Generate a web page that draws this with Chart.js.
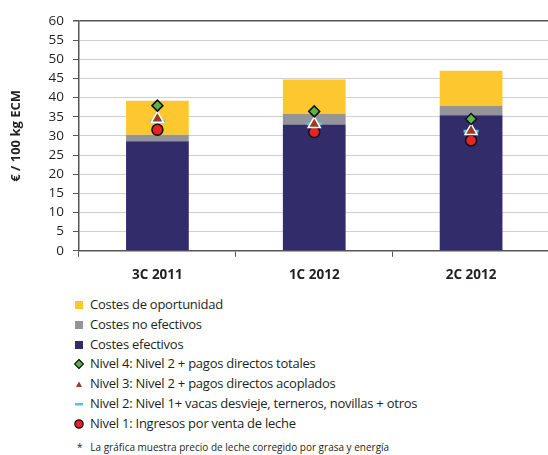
<!DOCTYPE html>
<html>
<head>
<meta charset="utf-8">
<script src="https://cdn.jsdelivr.net/npm/chart.js@4.4.0/dist/chart.umd.min.js"></script>
<style>
    html, body { margin: 0; padding: 0; background: #fff; overflow: hidden; width: 548px; height: 455px; }
    #wrap { position: absolute; left: 0; top: 0; width: 560px; height: 293px; }
    #leyenda { position: absolute; left: 74px; top: 295px; font-family: 'Open Sans', sans-serif; font-size: 13px; letter-spacing: -0.25px; color: #231f20; }
    .item { height: 19.8px; line-height: 19.8px; white-space: nowrap; position: relative; padding-left: 16px; }
    .item svg { position: absolute; left: 0; top: 5px; }
    #nota { position: absolute; left: 77px; top: 440px; font-family: 'Open Sans', sans-serif; font-size: 10px; color: #231f20; white-space: nowrap; }
</style>
</head>
<body>
<div id="wrap"><canvas id="grafico" width="560" height="293"></canvas></div>
<div id="leyenda"></div>
<div id="nota">*&nbsp;&nbsp; La gráfica muestra precio de leche corregido por grasa y energía</div>
<script>
// =====================================================
// DATOS
// =====================================================

const categorias = ['3C 2011', '1C 2012', '2C 2012'];
const costesEfectivos = [28.6, 33.0, 35.4];
const costesNoEfectivos = [1.7, 2.8, 2.5];
const costesOportunidad = [8.9, 8.9, 9.1];
const nivel4 = [37.9, 36.4, 34.4];
const nivel3 = [34.5, 33.1, 31.3];
const nivel2 = [33.8, 33.2, 31.2];
const nivel1 = [31.6, 31.0, 28.8];
const ticksY = [0, 5, 10, 15, 20, 25, 30, 35, 40, 45, 50, 55, 60];

const colores = {
    oportunidad: '#fdc82f',
    noEfectivos: '#939598',
    efectivos: '#332c6b',
    nivel4: '#5bb446',
    nivel3: '#9a3b25',
    nivel2: '#55c4dc',
    nivel1: '#e5232a'
};

// =====================================================
// GRÁFICO
// =====================================================

function crearGrafico() {
    const ctx = document.getElementById('grafico');

    const barra = (label, data, color, order) => ({
        type: 'bar', label, data, backgroundColor: color, order, stack: 'costes',
        barPercentage: 0.4, categoryPercentage: 1.0
    });
    const punto = (label, data, style, fondo, borde, radio, ancho, order) => ({
        type: 'line', label, data, showLine: false, order, stack: label,
        pointStyle: style, pointRadius: radio, pointHoverRadius: radio,
        pointBackgroundColor: fondo, pointBorderColor: borde, pointBorderWidth: ancho
    });

    new Chart(ctx, {
        data: {
            labels: categorias,
            datasets: [
                barra('Costes efectivos', costesEfectivos, colores.efectivos, 4),
                barra('Costes no efectivos', costesNoEfectivos, colores.noEfectivos, 5),
                barra('Costes de oportunidad', costesOportunidad, colores.oportunidad, 6),
                punto('Nivel 1', nivel1, 'circle', colores.nivel1, '#111', 5.5, 1.5, 3),
                punto('Nivel 2', nivel2, 'line', colores.nivel2, colores.nivel2, 7.5, 3, 2),
                punto('Nivel 3', nivel3, 'triangle', colores.nivel3, '#fff', 7, 1.5, 1),
                punto('Nivel 4', nivel4, 'rectRot', colores.nivel4, '#111', 5.5, 1.5, 0)
            ]
        },
        options: {
            responsive: false,
            animation: false,
            layout: { padding: { top: 21, right: 1, left: 0, bottom: 0 } },
            plugins: { legend: { display: false }, tooltip: { enabled: false } },
            scales: {
                x: {
                    stacked: true,
                    grid: { offset: true, drawOnChartArea: false, drawTicks: true, tickLength: 6, color: '#555' },
                    border: { color: '#555', width: 1.5 },
                    ticks: { padding: 10, color: '#231f20', font: { family: "'Open Sans', sans-serif", size: 13.5, weight: 'bold' } }
                },
                y: {
                    stacked: true,
                    min: 0, max: 60,
                    afterBuildTicks: scale => { scale.ticks = ticksY.map(v => ({ value: v })); },
                    afterFit: scale => { scale.width = 79; },
                    grid: {
                        color: c => c.tick && c.tick.value === 60 ? '#555' : '#cfcfcf',
                        lineWidth: c => c.tick && c.tick.value === 60 ? 1.5 : 1,
                        tickColor: '#555', tickLength: 6
                    },
                    border: { color: '#555', width: 1.5 },
                    ticks: { autoSkip: false, padding: 9, color: '#231f20', font: { family: "'Open Sans', sans-serif", size: 13.5 } },
                    title: {
                        display: true, text: '€ / 100 kg ECM', color: '#231f20', padding: { top: 8, bottom: 0 },
                        font: { family: "'Open Sans', sans-serif", size: 13, weight: 'bold' }
                    }
                }
            }
        }
    });
}

// =====================================================
// LEYENDA
// =====================================================

const leyendaItems = [
    { texto: 'Costes de oportunidad', svg: `<rect x="1" y="1" width="8" height="8" fill="${colores.oportunidad}"/>` },
    { texto: 'Costes no efectivos', svg: `<rect x="1" y="1" width="8" height="8" fill="${colores.noEfectivos}"/>` },
    { texto: 'Costes efectivos', svg: `<rect x="1" y="1" width="8" height="8" fill="${colores.efectivos}"/>` },
    { texto: 'Nivel 4: Nivel 2 + pagos directos totales', svg: `<polygon points="5,0.5 9.5,5 5,9.5 0.5,5" fill="${colores.nivel4}" stroke="#111" stroke-width="1.2"/>` },
    { texto: 'Nivel 3: Nivel 2 + pagos directos acoplados', svg: `<polygon points="5,2.5 8,8 2,8" fill="${colores.nivel3}"/>` },
    { texto: 'Nivel 2: Nivel 1+ vacas desvieje, terneros, novillas + otros', svg: `<rect x="1" y="4" width="8" height="2.5" fill="${colores.nivel2}"/>` },
    { texto: 'Nivel 1: Ingresos por venta de leche', svg: `<circle cx="5" cy="5" r="4.2" fill="${colores.nivel1}" stroke="#111" stroke-width="1.2"/>` }
];

function crearLeyenda() {
    const contenedor = document.getElementById('leyenda');
    contenedor.innerHTML = leyendaItems.map(item => `
        <div class="item"><svg width="10" height="10" viewBox="0 0 10 10">${item.svg}</svg>${item.texto}</div>
    `).join('');
}

crearGrafico();
crearLeyenda();
</script>
</body>
</html>
